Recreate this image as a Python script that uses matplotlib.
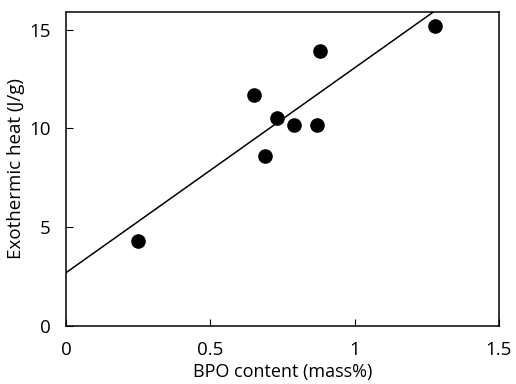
import matplotlib
matplotlib.use("Agg")
import matplotlib.pyplot as plt
import numpy as np

# data
bpo_content = [0.25, 0.65, 0.69, 0.73, 0.79, 0.87, 0.88, 1.28]
exo_heat = [4.3, 11.7, 8.6, 10.55, 10.2, 10.2, 13.9, 15.2]

# fitted line (intercept, slope)
fit_intercept = 2.7
fit_slope = 10.37

plt.rcParams["font.family"] = ["Open Sans", "DejaVu Sans"]

fig = plt.figure(figsize=(5.16, 3.84), dpi=100)
ax = fig.add_axes([0.128, 0.151, 0.839, 0.818])

line_x = np.array([0, 1.5])
ax.plot(line_x, fit_intercept + fit_slope * line_x, color="black", lw=1.1)
ax.plot(bpo_content, exo_heat, "o", color="black", ms=9.5, clip_on=False)

ax.set_xlim(0, 1.5)
ax.set_ylim(0, 15.9)
ax.set_xticks([0, 0.5, 1, 1.5])
ax.set_xticklabels(["0", "0.5", "1", "1.5"])
ax.set_yticks([0, 5, 10, 15])
ax.tick_params(direction="in", length=5, width=0.8, labelsize=13.5)
ax.tick_params(axis="x", pad=11)
ax.tick_params(axis="y", pad=11)
for s in ax.spines.values():
    s.set_linewidth(1.1)

ax.set_xlabel("BPO content (mass%)", fontsize=13, labelpad=3)
ax.set_ylabel("Exothermic heat (J/g)", fontsize=13.5, labelpad=3)

fig.savefig("out.png", dpi=100)
